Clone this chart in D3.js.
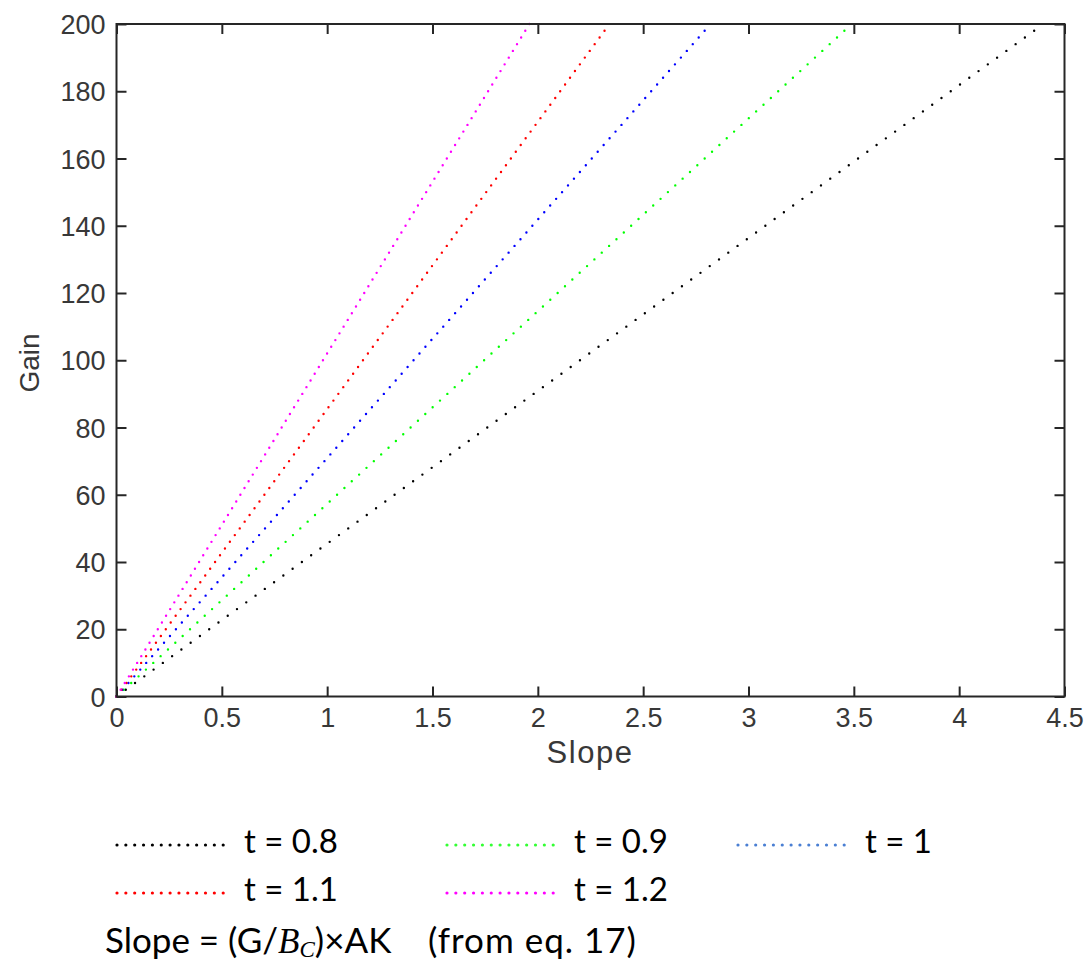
<!DOCTYPE html>
<html>
<head>
<meta charset="utf-8">
<script src="https://cdn.jsdelivr.net/npm/d3@7/dist/d3.min.js"></script>
<style>
  html, body { margin: 0; padding: 0; background: #fff; }
  svg { display: block; }
</style>
</head>
<body>
<svg id="chart" width="1088" height="961"></svg>
<script>
// Gain against slope for several values of t; every curve is a straight line from the origin.
const tValues = [0.8, 0.9, 1, 1.1, 1.2];
const seriesLabels = ["t = 0.8", "t = 0.9", "t = 1", "t = 1.1", "t = 1.2"];
// slope at which each line reaches the top of the gain range
const slopeAtTopGain = [4.40, 3.49, 2.82, 2.34, 1.96];
const gainStart = [0, 0];            // every line starts at slope 0, gain 0
const gainTop = 200;
const gainSampleStep = 2;            // gain spacing of the plotted samples
const lineColors = ["#000000", "#00ff00", "#0000ff", "#ff0000", "#ff00ff"];
const legendColors = ["#000000", "#33ff33", "#4a7fd3", "#ff0000", "#ff00ff"];
const xTicks = [0, 0.5, 1, 1.5, 2, 2.5, 3, 3.5, 4, 4.5];
const xTickLabels = ["0", "0.5", "1", "1.5", "2", "2.5", "3", "3.5", "4", "4.5"];
const yTicks = [0, 20, 40, 60, 80, 100, 120, 140, 160, 180, 200];
const xDomain = [0, 4.5];
const yDomain = [0, 200];

const svg = d3.select("#chart");

const plot = { left: 116.5, right: 1064.5, top: 24, bottom: 696.5 };
const x = d3.scaleLinear().domain(xDomain).range([plot.left, plot.right]);
const y = d3.scaleLinear().domain(yDomain).range([plot.bottom, plot.top]);

const axisColor = "#262626";
const labelColor = "#383838";
const tickFont = "'Liberation Sans', Arial, sans-serif";

// data lines, drawn dotted with one dot per gain sample
const line = d3.line().x(d => x(d[0])).y(d => y(d[1]));
const lines = svg.append("g");
tValues.forEach((t, i) => {
  const pts = [gainStart, [slopeAtTopGain[i], gainTop]];
  const path = lines.append("path")
    .attr("d", line(pts))
    .attr("fill", "none")
    .attr("stroke", lineColors[i])
    .attr("stroke-width", 2.4)
    .attr("stroke-linecap", "round");
  const len = path.node().getTotalLength();
  const period = len * gainSampleStep / (gainTop - gainStart[1]);
  path.attr("stroke-dasharray", `0 ${period}`);
});

// box and inward ticks on all four sides
const axes = svg.append("g").attr("stroke", axisColor).attr("stroke-width", 2).attr("fill", "none");
axes.append("rect")
  .attr("x", plot.left).attr("y", plot.top)
  .attr("width", plot.right - plot.left).attr("height", plot.bottom - plot.top);

const tickLen = 10;
const xAxisBottom = d3.axisBottom(x).tickValues(xTicks).tickSizeInner(-tickLen).tickSizeOuter(0)
  .tickFormat((d, i) => xTickLabels[i]).tickPadding(11);
const xAxisTop = d3.axisTop(x).tickValues(xTicks).tickSizeInner(-tickLen).tickSizeOuter(0).tickFormat("");
const yAxisLeft = d3.axisLeft(y).tickValues(yTicks).tickSizeInner(-tickLen).tickSizeOuter(0).tickPadding(11);
const yAxisRight = d3.axisRight(y).tickValues(yTicks).tickSizeInner(-tickLen).tickSizeOuter(0).tickFormat("");

function styleAxis(g) {
  g.select(".domain").remove();
  g.selectAll(".tick line").attr("stroke", axisColor).attr("stroke-width", 2);
  g.selectAll(".tick text")
    .attr("fill", labelColor)
    .style("font-family", tickFont)
    .style("font-size", "27px");
}

svg.append("g").attr("transform", `translate(0,${plot.bottom})`).call(xAxisBottom).call(styleAxis)
  .selectAll(".tick text").attr("dy", "0.71em");
svg.append("g").attr("transform", `translate(0,${plot.top})`).call(xAxisTop).call(styleAxis);
svg.append("g").attr("transform", `translate(${plot.left},0)`).call(yAxisLeft).call(styleAxis)
  .selectAll(".tick text").attr("dy", "0.36em");
svg.append("g").attr("transform", `translate(${plot.right},0)`).call(yAxisRight).call(styleAxis);

// axis titles
svg.append("text")
  .attr("x", 590).attr("y", 763)
  .attr("text-anchor", "middle")
  .attr("fill", labelColor)
  .style("font-family", tickFont).style("font-size", "31px")
  .style("letter-spacing", "1.5px")
  .text("Slope");
svg.append("text")
  .attr("transform", "translate(39,363) rotate(-90)")
  .attr("text-anchor", "middle")
  .attr("fill", labelColor)
  .style("font-family", tickFont).style("font-size", "28px")
  .text("Gain");

// legend below the axes
const legendFont = "Lato, 'Open Sans', sans-serif";
const legendPos = [
  { x: 117, y: 845 }, { x: 447, y: 845 }, { x: 738, y: 845 },
  { x: 117, y: 893 }, { x: 447, y: 893 }
];
const legendDots = 13, legendDotGap = 8.85;
const legend = svg.append("g");
tValues.forEach((t, i) => {
  const p = legendPos[i];
  legend.append("line")
    .attr("x1", p.x).attr("x2", p.x + (legendDots - 1) * legendDotGap + 0.5)
    .attr("y1", p.y).attr("y2", p.y)
    .attr("stroke", legendColors[i])
    .attr("stroke-width", 3.2)
    .attr("stroke-linecap", "round")
    .attr("stroke-dasharray", `0 ${legendDotGap}`);
  legend.append("text")
    .attr("x", p.x + 127).attr("y", p.y + 8)
    .attr("fill", "#000")
    .style("font-family", legendFont).style("font-size", "33px")
    .text(seriesLabels[i]);
});

// note on how the slope is defined
const note = svg.append("text")
  .attr("x", 105).attr("y", 953)
  .attr("fill", "#000")
  .style("font-family", legendFont).style("font-size", "35px");
note.append("tspan").text("Slope = (G/");
note.append("tspan").style("font-family", "'Liberation Serif', 'DejaVu Serif', serif")
  .style("font-style", "italic").text("B");
note.append("tspan").style("font-family", "'Liberation Serif', 'DejaVu Serif', serif")
  .style("font-style", "italic").style("font-size", "23px").attr("dy", 4).text("C");
note.append("tspan").attr("dy", -4).text(")×AK");
note.append("tspan").attr("x", 428).style("letter-spacing", "1px").text("(from eq. 17)");
</script>
</body>
</html>
